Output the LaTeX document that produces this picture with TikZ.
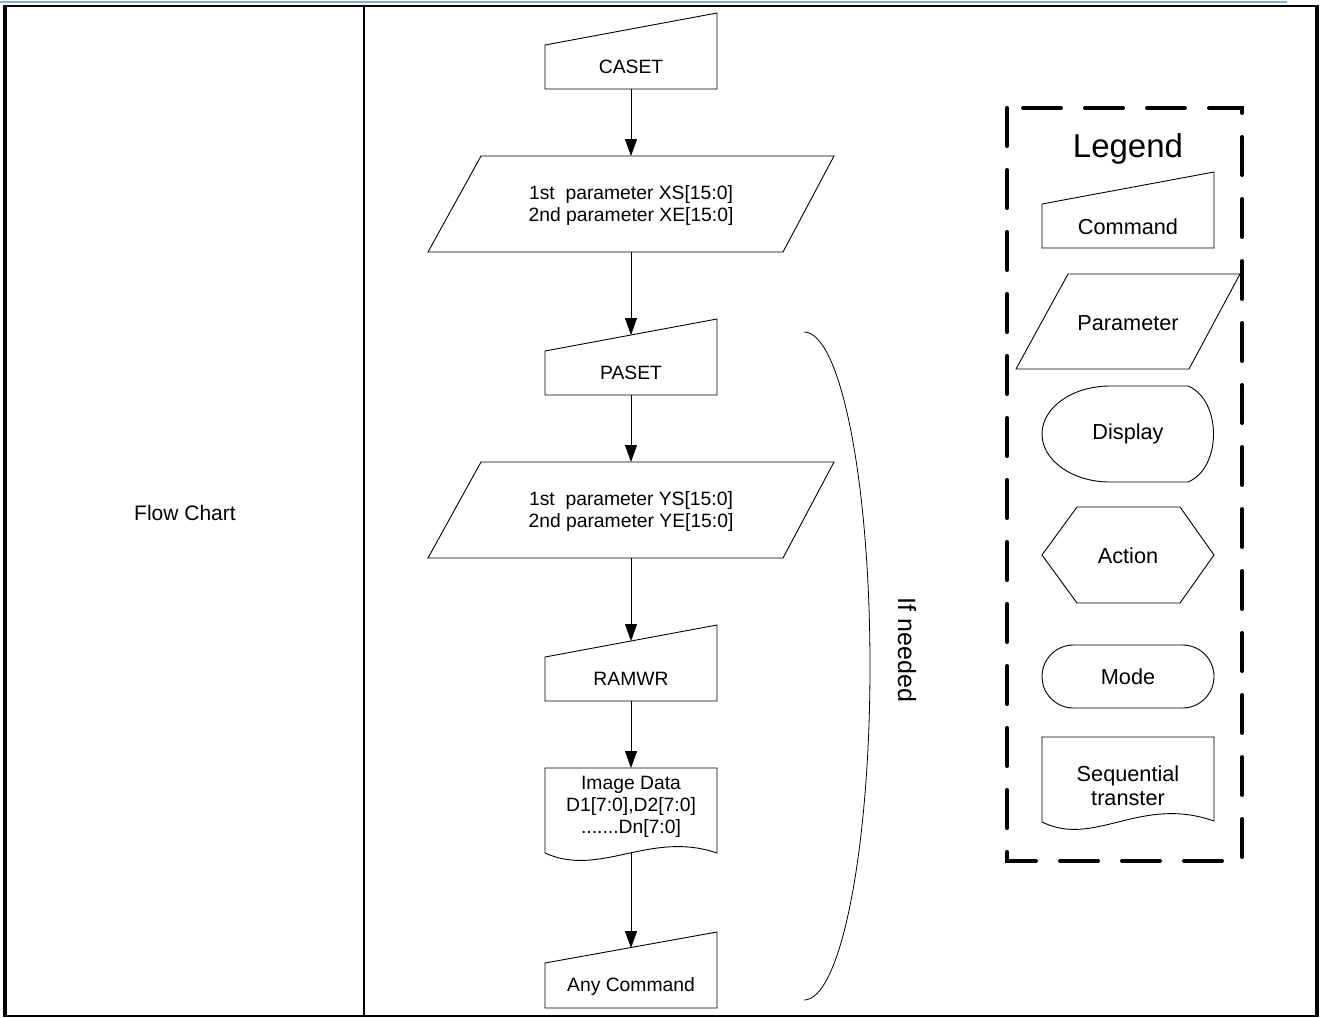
\documentclass[tikz,border=0pt]{standalone}
\usepackage{fontspec}
\setmainfont{Liberation Sans}
\usetikzlibrary{arrows.meta}
\definecolor{topblue}{RGB}{143,170,215}
\begin{document}
\begin{tikzpicture}[x=1pt,y=-1pt,
  shp/.style={draw=black,line width=0.9pt,fill=white},
  arr/.style={draw=black,line width=0.9pt,-{Triangle[length=17pt,width=12pt]}},
  ftext/.style={font=\fontsize{19.3}{22}\selectfont,align=center,inner sep=0pt},
  ltext/.style={font=\fontsize{21.7}{24}\selectfont,align=center,inner sep=0pt},
  frame/.style={draw=black,line width=2.5pt},
  legbox/.style={draw=black,line width=4pt,dash pattern=on 38pt off 24pt,line cap=round},
]
\useasboundingbox (0,0) rectangle (1322,1017);
\fill[white] (0,0) rectangle (1322,1017);

% table frame
\draw[topblue,line width=2pt] (0,1.5) -- (1287,1.5);
\draw[frame] (3.8,6) -- (1318,6);
\draw[draw=black,line width=4pt] (5,4.8) -- (5,1016.5);
\draw[draw=black,line width=4pt] (1317,4.8) -- (1317,1016.5);
\draw[draw=black,line width=2pt] (3,1015.5) -- (1319,1015.5);
\draw[draw=black,line width=2pt] (364,6) -- (364,1015);

\node[font=\fontsize{21}{24}\selectfont,inner sep=0pt] (fc) at (185,513) {Flow Chart};

% flow chart shapes
\draw[shp] (545,45) -- (717,13) -- (717,89) -- (545,89) -- cycle;
\node[ftext] (caset) at (631,67) {CASET};

\draw[shp] (481,156) -- (834,156) -- (783,252) -- (428,252) -- cycle;
\node[ftext] (par1) at (631,206) {1st\ \ parameter XS[15:0]\\2nd parameter XE[15:0]};

\draw[shp] (545,351) -- (717,319) -- (717,395) -- (545,395) -- cycle;
\node[ftext] (paset) at (631,373) {PASET};

\draw[shp] (481,462) -- (834,462) -- (783,558) -- (428,558) -- cycle;
\node[ftext] (par2) at (631,512) {1st\ \ parameter YS[15:0]\\2nd parameter YE[15:0]};

\draw[shp] (545,657) -- (717,625) -- (717,701) -- (545,701) -- cycle;
\node[ftext] (ramwr) at (631,679) {RAMWR};

\draw[shp] (545,768) -- (717,768) -- (717,853)
  .. controls (650,830) and (600,878) .. (545,853) -- cycle;
\node[ftext] (img) at (631,807) {Image Data\\D1[7:0],D2[7:0]\\.......Dn[7:0]};

\draw[shp] (545,963) -- (717,932) -- (717,1008) -- (545,1008) -- cycle;
\node[ftext] (anyc) at (631,986) {Any Command};

% connector ends
\coordinate (caset-b) at (631,89);
\coordinate (par1-t) at (631,156);
\coordinate (par1-b) at (631,252);
\coordinate (paset-t) at (631,335);
\coordinate (paset-b) at (631,395);
\coordinate (par2-t) at (631,462);
\coordinate (par2-b) at (631,558);
\coordinate (ramwr-t) at (631,641);
\coordinate (ramwr-b) at (631,701);
\coordinate (img-t) at (631,768);
\coordinate (img-b) at (631,853);
\coordinate (any-t) at (631,948);

\draw[arr] (caset-b) -- (par1-t);
\draw[arr] (par1-b) -- (paset-t);
\draw[arr] (paset-b) -- (par2-t);
\draw[arr] (par2-b) -- (ramwr-t);
\draw[arr] (ramwr-b) -- (img-t);
\draw[arr] (img-b) -- (any-t);

% if needed bracket
\coordinate (brk-t) at (804,332);
\coordinate (brk-m) at (870,666);
\coordinate (brk-b) at (804,1000);
\draw[line width=0.8pt] (brk-t) .. controls (840.5,332) and (870,481.5) .. (brk-m)
  .. controls (870,850.5) and (840.5,1000) .. (brk-b);
\node[font=\fontsize{25}{28}\selectfont,rotate=-90,inner sep=0pt] (ifn) at (907,650) {If needed};

% legend
\draw[legbox] (1007,108) rectangle (1242,861);
\node[font=\fontsize{33}{36}\selectfont,inner sep=0pt] (leg) at (1128,149) {Legend};

\draw[shp] (1042,204) -- (1214,172) -- (1214,248) -- (1042,248) -- cycle;
\node[ltext] (lcmd) at (1128,227) {Command};

\draw[shp] (1068,274) -- (1240,274) -- (1189,369) -- (1016,369) -- cycle;
\node[ltext] (lpar) at (1128,323) {Parameter};

\draw[shp] (1188,386) .. controls (1222,400) and (1222,468) .. (1188,482)
  -- (1110,482) .. controls (1072.4,482) and (1042,460.5) .. (1042,434)
  .. controls (1042,407.5) and (1072.4,386) .. (1110,386) -- cycle;
\node[ltext] (ldisp) at (1128,434) {Display};

\draw[shp] (1042,555) -- (1077,507) -- (1180,507) -- (1214,555) -- (1180,603) -- (1077,603) -- cycle;
\node[ltext] (lact) at (1128,556) {Action};

\draw[shp,rounded corners=31.5pt] (1042,645) rectangle (1214,708);
\node[ltext] (lmode) at (1128,677) {Mode};

\draw[shp] (1042,737) -- (1214,737) -- (1214,821)
  .. controls (1140,795) and (1095,848) .. (1042,822) -- cycle;
\node[ltext] (lseq) at (1128,786) {Sequential\\transter};

\end{tikzpicture}
\end{document}
